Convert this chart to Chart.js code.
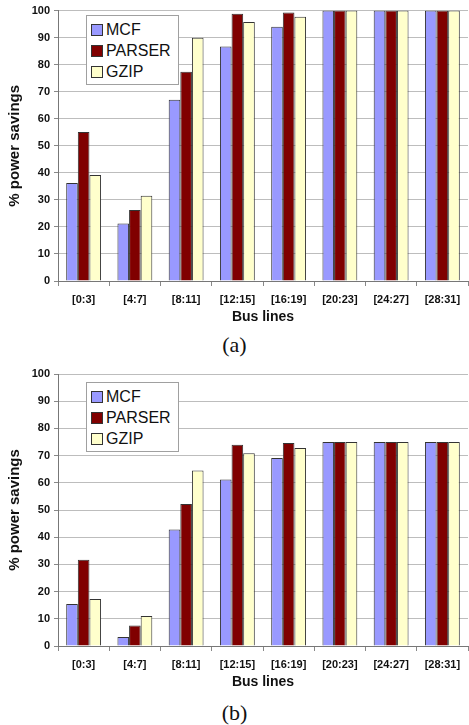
<!DOCTYPE html>
<html lang="en">
<head>
    <meta charset="UTF-8">
    <title>Power savings per bus line</title>
    <style>
        body {
            margin: 0;
            background: #fff;
            width: 469px;
            height: 725px;
            position: relative;
            overflow: hidden;
            font-family: "Liberation Sans", Arial, sans-serif;
        }
        .panel { position: absolute; left: 0; width: 469px; }
        .legend {
            position: absolute;
            left: 86px;
            width: 87px;
            border: 1px solid #a0a0a0;
            background: #fff;
            padding: 3px 0 2px 4px;
        }
        .legend div { height: 21px; line-height: 21px; font-size: 16px; color: #111; white-space: nowrap; }
        .legend span {
            display: inline-block;
            width: 10px;
            height: 10px;
            border: 1px solid #333;
            margin-right: 3px;
            vertical-align: -1px;
        }
        .caption {
            position: absolute;
            left: 0;
            width: 469px;
            text-align: center;
            font-family: "Liberation Serif", "Times New Roman", serif;
            font-size: 22px;
            line-height: 26px;
            color: #111;
        }
    </style>
</head>
<body>
    <div class="panel" style="top:0px;height:330px">
        <canvas id="chartA" width="469" height="330"></canvas>
        <div class="legend" id="legendA" style="top:15px"></div>
    </div>
    <div class="caption" style="top:332px">(a)</div>

    <div class="panel" style="top:355px;height:340px">
        <canvas id="chartB" width="469" height="340"></canvas>
        <div class="legend" id="legendB" style="top:27px"></div>
    </div>
    <div class="caption" style="top:700px">(b)</div>

    <script src="https://cdn.jsdelivr.net/npm/chart.js"></script>
    <script>
        const busLines = ['[0:3]', '[4:7]', '[8:11]', '[12:15]', '[16:19]', '[20:23]', '[24:27]', '[28:31]'];
        const seriesNames = ['MCF', 'PARSER', 'GZIP'];
        const seriesColors = ['#9999ff', '#800000', '#ffffcc'];

        // (a)
        const mcfA = [36.2, 21.3, 67.0, 86.7, 94.0, 100, 100, 100];
        const parserA = [55.1, 26.3, 77.4, 98.8, 99.3, 100, 100, 100];
        const gzipA = [39.2, 31.5, 90.0, 95.8, 97.7, 100, 100, 100];

        // (b)
        const mcfB = [15.4, 3.3, 42.8, 61.2, 69.1, 75, 75, 75];
        const parserB = [31.7, 7.5, 52.2, 74.0, 74.6, 75, 75, 75];
        const gzipB = [17.3, 11.0, 64.5, 70.9, 72.8, 75, 75, 75];

        const yMin = 0, yMax = 100, yStep = 10;

        function buildLegend(id) {
            const box = document.getElementById(id);
            seriesNames.forEach((name, i) => {
                const row = document.createElement('div');
                const sw = document.createElement('span');
                sw.style.background = seriesColors[i];
                row.appendChild(sw);
                row.appendChild(document.createTextNode(name));
                box.appendChild(row);
            });
        }

        function makeChart(id, values, padTop) {
            const ctx = document.getElementById(id).getContext('2d');
            return new Chart(ctx, {
                type: 'bar',
                data: {
                    labels: busLines,
                    datasets: seriesNames.map((name, i) => ({
                        label: name,
                        data: values[i],
                        backgroundColor: seriesColors[i],
                        borderColor: '#333',
                        borderWidth: 1,
                        categoryPercentage: 0.68,
                        barPercentage: 1.0
                    }))
                },
                options: {
                    responsive: false,
                    animation: false,
                    layout: { padding: { top: padTop, right: 1, left: 0, bottom: 0 } },
                    plugins: {
                        legend: { display: false },
                        tooltip: { enabled: false }
                    },
                    scales: {
                        x: {
                            grid: { drawOnChartArea: false, tickLength: 5, color: '#888', offset: true },
                            border: { color: '#777', width: 1 },
                            ticks: { color: '#111', font: { family: 'Liberation Sans', size: 11, weight: 'bold' }, padding: 7, maxRotation: 0 },
                            title: {
                                display: true,
                                text: 'Bus lines',
                                color: '#111',
                                font: { family: 'Liberation Sans', size: 14, weight: 'bold' },
                                padding: { top: 0, bottom: 4 }
                            },
                            afterFit: scale => { scale.height = 49; }
                        },
                        y: {
                            min: yMin,
                            max: yMax,
                            ticks: { stepSize: yStep, color: '#111', font: { family: 'Liberation Sans', size: 11, weight: 'bold' }, padding: 4 },
                            grid: { color: '#bdbdbd', lineWidth: 1, tickLength: 4, tickColor: '#888' },
                            border: { color: '#777', width: 1 },
                            title: {
                                display: true,
                                text: '% power savings',
                                color: '#111',
                                font: { family: 'Liberation Sans', size: 15, weight: 'bold' },
                                padding: { top: 6, bottom: 0 }
                            },
                            afterFit: scale => { scale.width = 58; }
                        }
                    }
                }
            });
        }

        buildLegend('legendA');
        buildLegend('legendB');
        makeChart('chartA', [mcfA, parserA, gzipA], 7);
        makeChart('chartB', [mcfB, parserB, gzipB], 19);
    </script>
</body>
</html>
